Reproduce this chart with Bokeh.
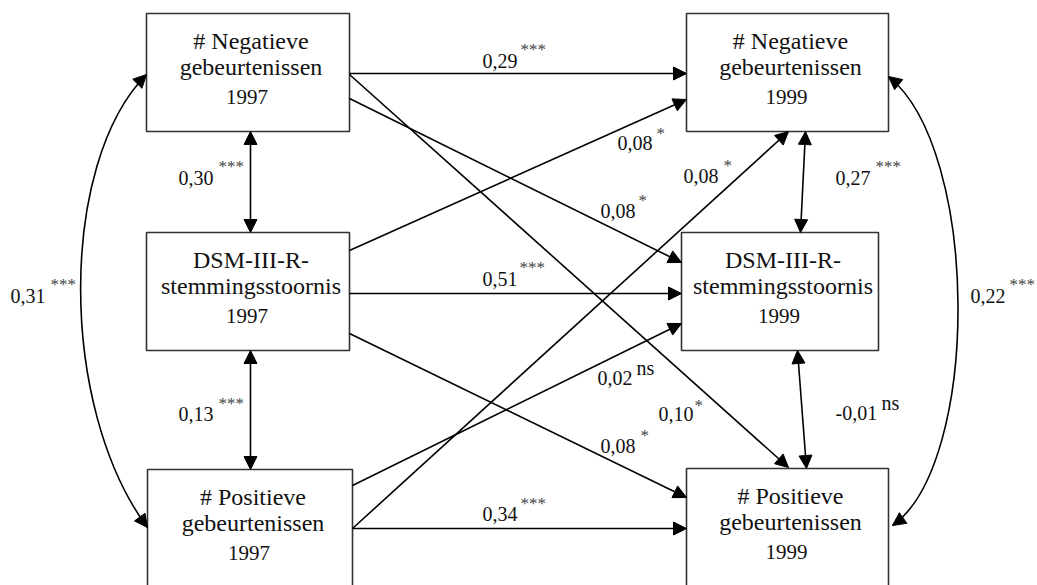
from bokeh.plotting import figure
from bokeh.models import Range1d, Arrow, NormalHead
from bokeh.core.properties import value
from bokeh.embed import file_html
from bokeh.resources import INLINE

# ---------------- data ----------------
node_ids = ["neg97", "dsm97", "pos97", "neg99", "dsm99", "pos99"]
node_line1 = ["# Negatieve", "DSM-III-R-", "# Positieve", "# Negatieve", "DSM-III-R-", "# Positieve"]
node_line2 = ["gebeurtenissen", "stemmingsstoornis", "gebeurtenissen",
              "gebeurtenissen", "stemmingsstoornis", "gebeurtenissen"]
node_year = ["1997", "1997", "1997", "1999", "1999", "1999"]

path_from = ["neg97", "neg97", "neg97", "dsm97", "dsm97", "dsm97", "pos97", "pos97", "pos97",
             "neg97", "dsm97", "neg99", "dsm99", "neg97", "neg99"]
path_to = ["neg99", "dsm99", "pos99", "neg99", "dsm99", "pos99", "dsm99", "neg99", "pos99",
           "dsm97", "pos97", "dsm99", "pos99", "pos97", "pos99"]
path_coef = ["0,29", "0,08", "0,10", "0,08", "0,51", "0,08", "0,02", "0,08", "0,34",
             "0,30", "0,13", "0,27", "-0,01", "0,31", "0,22"]
path_sig = ["***", "*", "*", "*", "***", "*", "ns", "*", "***",
            "***", "***", "***", "ns", "***", "***"]
path_kind = ["direct"] * 9 + ["corr"] * 4 + ["arc"] * 2

# ---------------- layout (pixel positions, screen coords) ----------------
boxes = {  # left, top, right, bottom
    "neg97": (146, 13, 349, 131),
    "dsm97": (146, 232, 349, 350),
    "pos97": (147, 469, 352, 600),
    "neg99": (686, 13, 888, 131),
    "dsm99": (681, 232, 878, 350),
    "pos99": (686, 468, 888, 600),
}
path_pts = [
    ((349, 73), (686, 73)),
    ((349, 98), (681, 262)),
    ((349, 74), (788, 467)),
    ((349, 250), (686, 99)),
    ((349, 293), (681, 293)),
    ((349, 333), (686, 497)),
    ((352, 485), (681, 323)),
    ((352, 528), (788, 131)),
    ((352, 528), (686, 528)),
    ((250, 131), (250, 232)),
    ((250, 350), (250, 469)),
    ((805, 131), (800, 232)),
    ((797, 350), (806, 468)),
    ((146, 74), (147, 527)),
    ((888, 76), (892, 525)),
]
arc_ctrl = {13: ((58, 163), (58, 407)), 14: ((980, 150), (980, 463))}
# label: number x, number baseline, superscript x, superscript baseline
label_pos = [
    (482, 60, 520, 46), (600, 210, 638, 197), (658, 413, 694, 402),
    (617, 142, 656, 130), (482, 278, 519, 264), (600, 445, 640, 432),
    (597, 377, 636, 367), (683, 175, 723, 162), (482, 513, 520, 500),
    (178, 177, 218, 163), (178, 413, 218, 400), (835, 177, 875, 163),
    (835, 412, 881, 402), (10, 295, 50, 281), (970, 295, 1009, 281),
]

FONT = value("Liberation Serif")
W, H = 1037, 585

p = figure(width=W, height=H, x_range=Range1d(0, W), y_range=Range1d(H, 0),
           output_backend="svg", toolbar_location=None, min_border=0)
p.axis.visible = False
p.grid.visible = False
p.outline_line_color = None
p.background_fill_color = "white"

# boxes
bl = [boxes[n][0] for n in node_ids]
bt = [boxes[n][1] for n in node_ids]
br = [boxes[n][2] for n in node_ids]
bb = [boxes[n][3] for n in node_ids]
p.quad(left=bl, right=br, top=bt, bottom=bb, fill_color="white",
       line_color="#333333", line_width=1.6)

cx = [(l + r) / 2 + 3 for l, r in zip(bl, br)]
p.text(x=cx, y=[t + 27 for t in bt], text=node_line1, text_font=FONT, text_font_size="24px",
       text_align="center", text_baseline="alphabetic", text_color="#111111")
p.text(x=cx, y=[t + 53 for t in bt], text=node_line2, text_font=FONT, text_font_size="24px",
       text_align="center", text_baseline="alphabetic", text_color="#111111")
p.text(x=[c - 4 for c in cx], y=[t + 83 for t in bt], text=node_year, text_font=FONT,
       text_font_size="21px", text_align="center", text_baseline="alphabetic", text_color="#111111")


def head():
    return NormalHead(size=13, fill_color="black", line_color="black", line_width=1)


for i, kind in enumerate(path_kind):
    (x0, y0), (x1, y1) = path_pts[i]
    if kind == "direct":
        p.add_layout(Arrow(end=head(), x_start=x0, y_start=y0, x_end=x1, y_end=y1,
                           line_width=1.6, line_color="black"))
    elif kind == "corr":
        p.add_layout(Arrow(start=head(), end=head(), x_start=x0, y_start=y0, x_end=x1, y_end=y1,
                           line_width=1.6, line_color="black"))
    else:
        (c0x, c0y), (c1x, c1y) = arc_ctrl[i]
        p.bezier(x0=[x0], y0=[y0], x1=[x1], y1=[y1], cx0=[c0x], cy0=[c0y], cx1=[c1x], cy1=[c1y],
                 line_color="black", line_width=1.6)
        f = 0.04
        p.add_layout(Arrow(end=head(), x_start=x0 + (c0x - x0) * f, y_start=y0 + (c0y - y0) * f,
                           x_end=x0, y_end=y0, line_alpha=0))
        p.add_layout(Arrow(end=head(), x_start=x1 + (c1x - x1) * f, y_start=y1 + (c1y - y1) * f,
                           x_end=x1, y_end=y1, line_alpha=0))

# labels
nx = [lp[0] for lp in label_pos]
ny = [lp[1] for lp in label_pos]
p.text(x=nx, y=ny, text=path_coef, text_font=FONT, text_font_size="20px",
       text_align="left", text_baseline="alphabetic", text_color="#111111")
star_idx = [i for i, s in enumerate(path_sig) if s != "ns"]
ns_idx = [i for i, s in enumerate(path_sig) if s == "ns"]
p.text(x=[label_pos[i][2] for i in star_idx], y=[label_pos[i][3] + 3 for i in star_idx],
       text=[path_sig[i] for i in star_idx], text_font=FONT, text_font_size="17px",
       text_align="left", text_baseline="alphabetic", text_color="#444444")
p.text(x=[label_pos[i][2] for i in ns_idx], y=[label_pos[i][3] for i in ns_idx],
       text=[path_sig[i] for i in ns_idx], text_font=FONT, text_font_size="20px",
       text_align="left", text_baseline="alphabetic", text_color="#111111")

open("out.html", "w").write(file_html(p, INLINE))
